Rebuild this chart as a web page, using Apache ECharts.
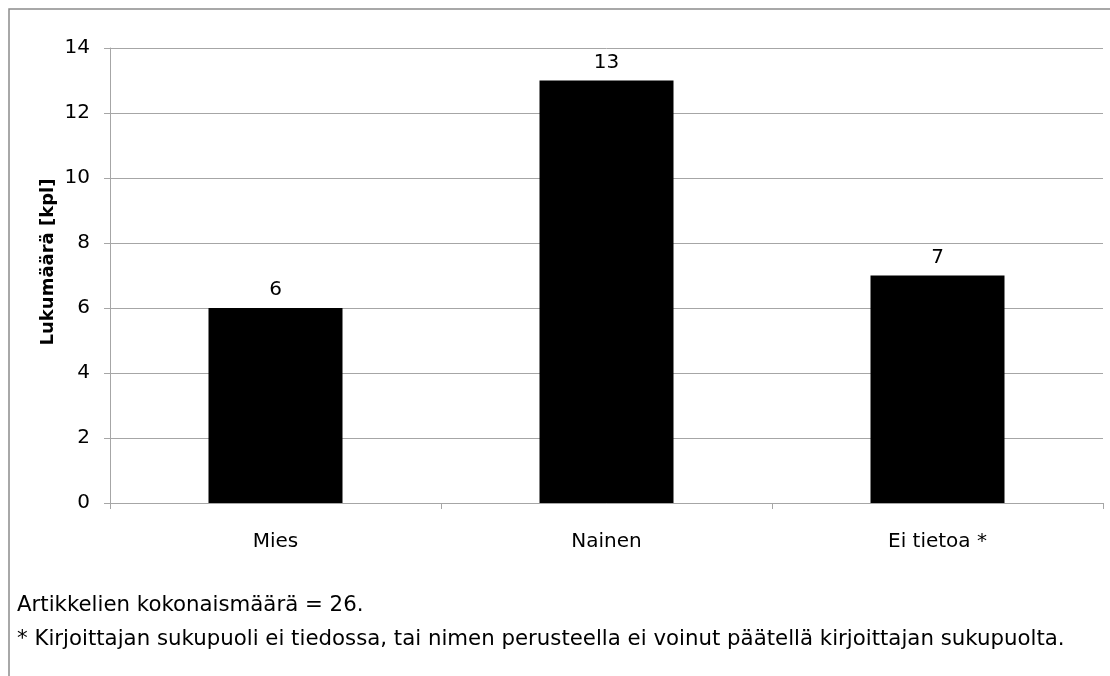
<!DOCTYPE html>
<html><head><meta charset="utf-8">
<script src="https://cdn.jsdelivr.net/npm/echarts@6/dist/echarts.min.js"></script>
<style>html,body{margin:0;padding:0;background:#fff}#c{width:1110px;height:676px}</style>
</head><body><div id="c"></div>
<script>
const categories = ['Mies', 'Nainen', 'Ei tietoa *'];
const values = [6, 13, 7];
const yTicks = [0, 2, 4, 6, 8, 10, 12, 14];
const yAxisTitle = 'Lukumäärä [kpl]';
const note1 = 'Artikkelien kokonaismäärä = 26.';
const note2 = '* Kirjoittajan sukupuoli ei tiedossa, tai nimen perusteella ei voinut päätellä kirjoittajan sukupuolta.';

const FONT = '"DejaVu Sans", sans-serif';
const chart = echarts.init(document.getElementById('c'));
chart.setOption({
  animation: false,
  grid: { left: 110, right: 7, top: 48, bottom: 173 },
  xAxis: {
    type: 'category', data: categories,
    axisLine: { lineStyle: { color: '#a6a6a6', width: 1 } },
    axisTick: { show: true, length: 6, lineStyle: { color: '#a6a6a6' } },
    axisLabel: { color: '#000', fontSize: 20, fontFamily: FONT, margin: 29 }
  },
  yAxis: {
    type: 'value', min: yTicks[0], max: yTicks[yTicks.length - 1], interval: 2,
    axisLine: { show: true, lineStyle: { color: '#a6a6a6' } },
    axisTick: { show: true, length: 6, lineStyle: { color: '#a6a6a6' } },
    splitLine: { lineStyle: { color: '#a6a6a6' } },
    axisLabel: { color: '#000', fontSize: 20, fontFamily: FONT, margin: 20 }
  },
  series: [{
    type: 'bar', data: values, barWidth: 134,
    itemStyle: { color: '#000' },
    label: { show: true, position: 'top', distance: 8, color: '#000', fontSize: 20, fontFamily: FONT }
  }],
  graphic: [
    { type: 'rect', shape: { x: 9, y: 9, width: 1140, height: 720 }, style: { fill: null, stroke: '#8c8c8c', lineWidth: 1.5 }, silent: true },
    { type: 'text', x: 48, y: 262, rotation: Math.PI / 2, style: { text: yAxisTitle, fill: '#000', fontSize: 18, fontWeight: 'bold', fontFamily: FONT, align: 'center', verticalAlign: 'middle' } },
    { type: 'text', left: 17, top: 595, style: { text: note1, fill: '#000', fontSize: 21.3, fontFamily: FONT } },
    { type: 'text', left: 17, top: 629, style: { text: note2, fill: '#000', fontSize: 21.3, fontFamily: FONT } }
  ]
});
</script></body></html>
